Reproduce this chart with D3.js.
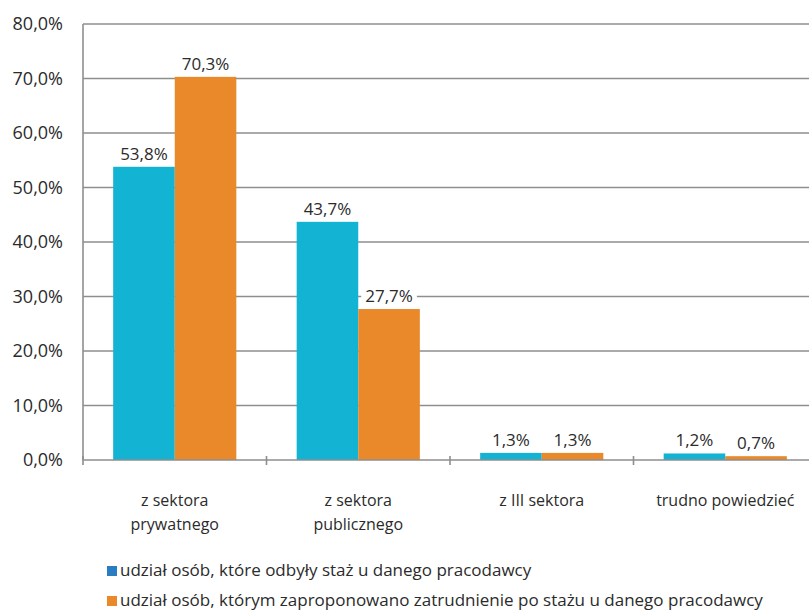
<!DOCTYPE html>
<html>
<head>
<meta charset="utf-8">
<script src="https://cdn.jsdelivr.net/npm/d3@7"></script>
<style>
  html, body { margin: 0; padding: 0; background: #fff; }
  svg { display: block; font-family: "Open Sans", sans-serif; }
</style>
</head>
<body>
<svg id="chart" width="809" height="611"></svg>
<script>
// Categories (multi-line labels) and the two series, in percent
const categories = ["z sektora|prywatnego", "z sektora|publicznego", "z III sektora", "trudno powiedzieć"];
const seriesNames = [
  "udział osób, które odbyły staż u danego pracodawcy",
  "udział osób, którym zaproponowano zatrudnienie po stażu u danego pracodawcy"
];
const internshipShare = [53.8, 43.7, 1.3, 1.2];
const jobOfferShare = [70.3, 27.7, 1.3, 0.7];
const yTicks = [0, 10, 20, 30, 40, 50, 60, 70, 80];

const barColors = ["#12b3d3", "#e9892a"];
const legendColors = ["#2a7dc0", "#e9892a"];

const svg = d3.select("#chart");
const margin = { left: 83, top: 24, bottom: 460, right: 817 };

const fmt = v => d3.format(".1f")(v).replace(".", ",") + "%";

const x = d3.scaleBand()
  .domain(categories)
  .range([margin.left, margin.right])
  .paddingInner(0).paddingOuter(0);

const inner = d3.scaleBand()
  .domain([0, 1])
  .range([0, x.bandwidth()])
  .paddingInner(0)
  .paddingOuter(0.49);

const y = d3.scaleLinear().domain([0, 80]).range([margin.bottom, margin.top]);

// Horizontal gridlines
svg.append("g")
  .selectAll("line")
  .data(yTicks.filter(d => d > 0))
  .join("line")
  .attr("x1", margin.left).attr("x2", 809)
  .attr("y1", d => y(d)).attr("y2", d => y(d))
  .attr("stroke", "#8e8e8e").attr("stroke-width", 1.6);

// Y axis labels
const yAxis = d3.axisLeft(y).tickValues(yTicks).tickFormat(fmt).tickSize(0).tickPadding(20);
const gy = svg.append("g").attr("transform", `translate(${margin.left},0)`).call(yAxis);
gy.select(".domain").remove();
gy.selectAll("text")
  .attr("font-size", 18).attr("fill", "#2b2b2b")
  .attr("font-family", "Open Sans, sans-serif");

// Bars
const data = categories.map((c, i) => ({ cat: c, vals: [internshipShare[i], jobOfferShare[i]] }));
const groups = svg.append("g").selectAll("g")
  .data(data).join("g")
  .attr("transform", d => `translate(${x(d.cat)},0)`);

groups.selectAll("rect")
  .data(d => d.vals.map((v, s) => ({ v, s })))
  .join("rect")
  .attr("x", d => inner(d.s))
  .attr("width", inner.bandwidth())
  .attr("y", d => y(d.v))
  .attr("height", d => y(0) - y(d.v))
  .attr("fill", d => barColors[d.s]);

// Value labels with white backing
groups.each(function(d) {
  const g = d3.select(this);
  d.vals.forEach((v, s) => {
    const cx = inner(s) + inner.bandwidth() / 2;
    const t = g.append("text")
      .attr("x", cx).attr("y", y(v) - 7)
      .attr("text-anchor", "middle")
      .attr("font-size", 17).attr("fill", "#2b2b2b")
      .text(fmt(v));
    const bb = t.node().getBBox();
    g.insert("rect", "text")
      .attr("x", bb.x - 4).attr("y", bb.y)
      .attr("width", bb.width + 8).attr("height", bb.height)
      .attr("fill", "#fff");
  });
});

// Axes lines
svg.append("line")
  .attr("x1", margin.left).attr("x2", margin.left)
  .attr("y1", margin.top).attr("y2", margin.bottom)
  .attr("stroke", "#8e8e8e").attr("stroke-width", 1.6);

const xAxis = d3.axisBottom(x).tickFormat("").tickSize(0);
const gx = svg.append("g").attr("transform", `translate(0,${margin.bottom})`).call(xAxis);
gx.select(".domain").attr("stroke", "#8e8e8e").attr("stroke-width", 1.6).attr("d", `M${margin.left},0H809`);
gx.selectAll(".tick").remove();
// Category separators
const seps = categories.map(c => x(c));
svg.append("g").selectAll("line")
  .data(seps).join("line")
  .attr("x1", d => d).attr("x2", d => d)
  .attr("y1", margin.bottom - 4).attr("y2", margin.bottom + 5)
  .attr("stroke", "#8e8e8e").attr("stroke-width", 1.6);

// Category labels
svg.append("g").selectAll("text")
  .data(categories).join("text")
  .attr("text-anchor", "middle")
  .attr("font-size", 16).attr("fill", "#2b2b2b")
  .attr("x", c => x(c) + x.bandwidth() / 2)
  .attr("y", 506)
  .each(function(c) {
    const lines = c.split("|");
    d3.select(this).selectAll("tspan").data(lines).join("tspan")
      .attr("x", d3.select(this).attr("x"))
      .attr("dy", (l, i) => i === 0 ? 0 : 24)
      .text(l => l);
  });

// Legend
const legend = svg.append("g").selectAll("g")
  .data(seriesNames).join("g")
  .attr("transform", (d, i) => `translate(107,${566 + i * 30})`);
legend.append("rect").attr("width", 10).attr("height", 10).attr("y", 0)
  .attr("fill", (d, i) => legendColors[i]);
legend.append("text").attr("x", 13).attr("y", 10)
  .attr("font-size", 17).attr("fill", "#2b2b2b")
  .text(d => d);
</script>
</body>
</html>
